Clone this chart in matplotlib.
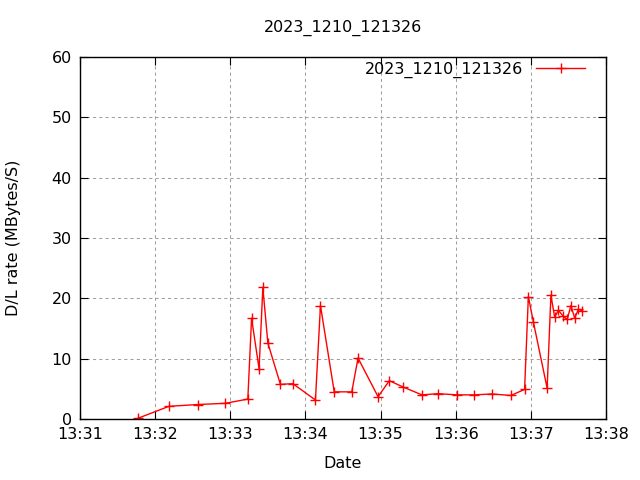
import datetime as dt
import matplotlib
matplotlib.use("Agg")
import matplotlib.pyplot as plt
import matplotlib.dates as mdates

# sample times (mm:ss after 13:00) and download rate
times = ["31:46", "32:11", "32:34", "32:56", "33:14", "33:17", "33:23", "33:26",
         "33:30", "33:40", "33:50", "34:08", "34:12", "34:23", "34:37", "34:42",
         "34:58", "35:07", "35:18", "35:33", "35:46", "36:01", "36:15", "36:29",
         "36:44", "36:55", "36:58", "37:02", "37:13", "37:16", "37:19", "37:22",
         "37:26", "37:29", "37:32", "37:35", "37:38", "37:41"]
rates = [0.1, 2.1, 2.4, 2.6, 3.3, 16.7, 8.3, 21.8,
         12.6, 5.75, 5.85, 3.15, 18.8, 4.5, 4.5, 10.1,
         3.7, 6.35, 5.3, 4.0, 4.2, 4.0, 4.0, 4.15,
         3.9, 4.9, 20.3, 16.1, 5.1, 20.5, 16.9, 18.0,
         17.0, 16.5, 18.8, 16.7, 18.2, 17.9]
series_name = "2023_1210_121326"

base = dt.datetime(2023, 12, 10, 13, 0, 0)
x = [base + dt.timedelta(minutes=int(t.split(":")[0]), seconds=int(t.split(":")[1]))
     for t in times]

plt.rcParams['font.family'] = ['DejaVu Sans']
plt.rcParams['font.size'] = 11.5

fig = plt.figure(figsize=(6.4, 4.8), dpi=100)
ax = fig.add_axes([80 / 640, 1 - 419 / 480, 526 / 640, 362 / 480])

ax.plot(x, rates, color="red", lw=1, marker="+", ms=7, mew=1, label=series_name)

ax.set_xlim(base + dt.timedelta(minutes=31), base + dt.timedelta(minutes=38))
ax.set_ylim(0, 60)
ax.set_yticks(range(0, 61, 10))
ax.xaxis.set_major_locator(mdates.MinuteLocator())
ax.xaxis.set_major_formatter(mdates.DateFormatter("%H:%M"))

ax.grid(True, color="#a0a0a0", linestyle=(0, (3, 3)), lw=0.75)
ax.tick_params(direction="in", length=6, top=True, right=True, labelsize=11.5, pad=6)
for s in ax.spines.values():
    s.set_linewidth(1)

ax.set_xlabel("Date", labelpad=10)
ax.set_ylabel("D/L rate (MBytes/S)", labelpad=22)
ax.set_title(series_name, pad=18, fontsize=11.5)

leg = ax.legend(loc="center right", bbox_to_anchor=(0.960, 0.964), frameon=False,
                markerfirst=False, handlelength=3.06, handletextpad=0.8,
                borderaxespad=0, borderpad=0, fontsize=11.5)

fig.savefig("out.png", dpi=100)
